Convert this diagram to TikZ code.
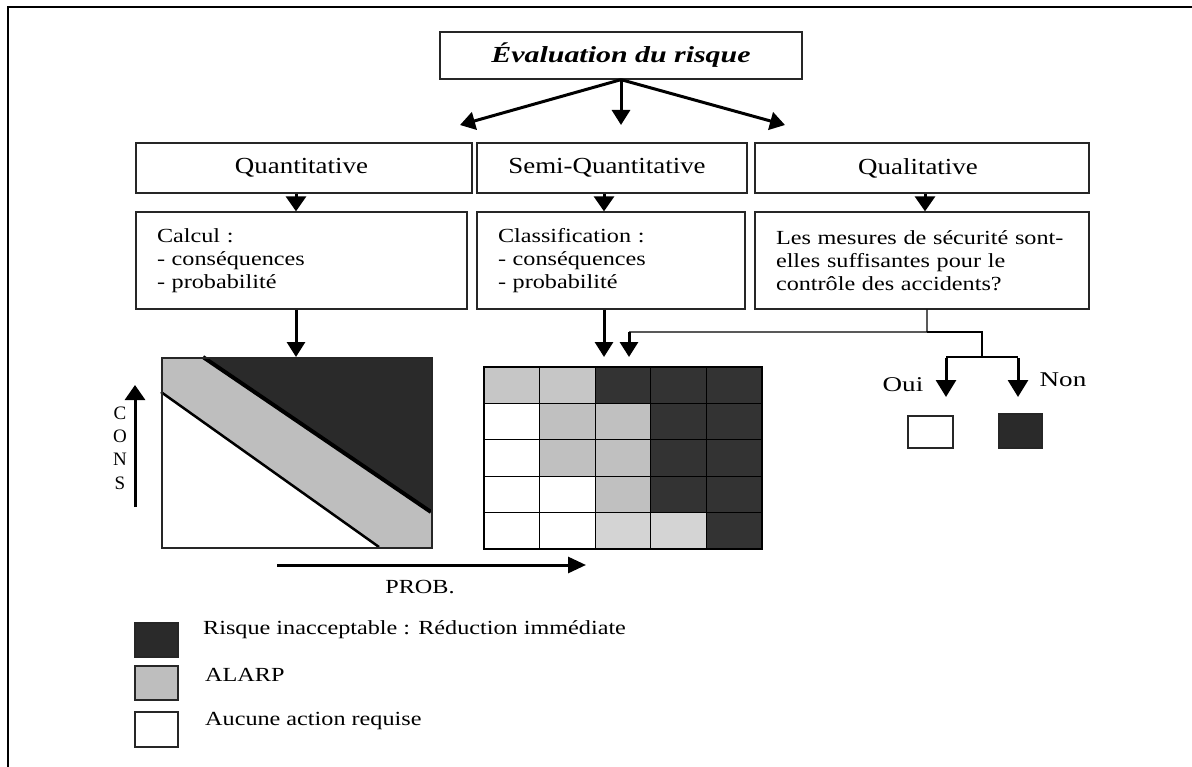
\documentclass[tikz,border=0pt]{standalone}
\usepackage{fontspec}
\setmainfont{Liberation Serif}
\newfontfamily\bodyf[FakeStretch=1.21]{Liberation Serif}
\newfontfamily\headf[FakeStretch=1.17]{Liberation Serif}
\newfontfamily\titlef[FakeStretch=1.3]{Liberation Serif}
\newfontfamily\ouif[FakeStretch=1.29]{Liberation Serif}
\usetikzlibrary{arrows.meta}
\definecolor{dk}{HTML}{2A2A2A}
\definecolor{gdk}{HTML}{333333}
\definecolor{gr}{HTML}{BEBEBE}
\definecolor{cA}{HTML}{C6C6C6}
\definecolor{cG}{HTML}{C0C0C0}
\definecolor{cL}{HTML}{D4D4D4}
\definecolor{cW}{HTML}{FFFFFF}
\tikzset{
  box/.style={draw=black!85, line width=1.3bp, fill=white, inner sep=0pt},
  headbox/.style={box, minimum height=50bp, font=\headf\fontsize{23bp}{27bp}\selectfont},
  bodybox/.style={box, minimum height=97bp, inner xsep=21bp, align=left,
     font=\bodyf\fontsize{20bp}{23.3bp}\selectfont},
  bigarrow/.style={line width=3bp, -{Triangle[width=18bp,length=15bp]}},
  smallarrow/.style={line width=3bp, -{Triangle[width=20bp,length=15bp]}},
  thinline/.style={line width=1.2bp},
  txt/.style={font=\bodyf\fontsize{20bp}{24bp}\selectfont, inner sep=0pt},
  legbox/.style={draw=black!85, line width=1.5bp, minimum width=43bp, minimum height=34bp, inner sep=0pt}
}
\begin{document}
\begin{tikzpicture}[x=1bp,y=-1bp]
\path[fill=white] (0,0) rectangle (1192,767);
\useasboundingbox (0,0) rectangle (1192,767);
% frame
\draw[line width=1.5bp] (1192,7) -- (8,7) -- (8,767);
% title
\node[box, minimum width=362bp, minimum height=47bp,
  font=\titlef\bfseries\itshape\fontsize{23bp}{27bp}\selectfont] (title) at (621,55.5) {Évaluation du risque};
\coordinate (tL) at (460,125);
\coordinate (tM) at (621,125);
\coordinate (tR) at (785,125);
\draw[bigarrow] (title.south) -- (tL);
\draw[bigarrow] (title.south) -- (tM);
\draw[bigarrow] (title.south) -- (tR);
% header boxes
\node[headbox, minimum width=336bp] (quant) at (304,168) {\hspace*{-5bp}Quantitative};
\node[headbox, minimum width=270bp] (semi) at (612,168) {\hspace*{-10bp}Semi-Quantitative};
\node[headbox, minimum width=334bp] (qual) at (922,168) {\hspace*{-8bp}Qualitative};
% body boxes
\node[bodybox, text width=289bp] (calc) at (301.5,260.5) {Calcul :\\- conséquences\\- probabilité};
\node[bodybox, text width=226bp] (classif) at (611,260.5) {Classification :\\- conséquences\\- probabilité};
\node[bodybox, text width=292bp] (mesures) at (922,260.5) {Les mesures de sécurité sont-\\elles suffisantes pour le\\contrôle des accidents?};
\draw[smallarrow] ([xshift=-8bp]quant.south) -- ([xshift=-8bp]quant.south |- calc.north);
\draw[smallarrow] ([xshift=-8bp]semi.south) -- ([xshift=-8bp]semi.south |- classif.north);
\draw[smallarrow] ([xshift=3bp]qual.south) -- ([xshift=3bp]qual.south |- mesures.north);
% quantitative graph
\coordinate (gNW) at (161,357);
\coordinate (gSE) at (431,547);
\coordinate (gA) at (203,357);
\coordinate (gB) at (431,512);
\coordinate (gC) at (161,392);
\coordinate (gD) at (379,547);
\fill[gr] (gNW) -- (gA) -- (gB) -- (gSE) -- (gD) -- (gC) -- cycle;
\fill[dk] (gA) -- (gNW -| gSE) -- (gB) -- cycle;
\draw[line width=4bp] (gA) -- (gB);
\draw[line width=2.5bp] (gC) -- (gD);
\node[draw=black!85, line width=1.5bp, minimum width=270bp, minimum height=190bp, inner sep=0pt, anchor=north west] (graph) at (gNW) {};
\draw[bigarrow] ([xshift=-5.5bp]calc.south) -- ([xshift=-5.5bp]calc.south |- graph.north);
% CONS axis
\coordinate (consB) at (135,507);
\coordinate (consT) at (135,385);
\draw[line width=3bp, -{Triangle[width=20bp,length=15bp]}] (consB) -- (consT);
\node[font=\fontsize{19bp}{23.3bp}\selectfont, align=center, inner sep=0pt] (cons) at (120,448) {C\\O\\N\\S};
% PROB axis
\coordinate (probL) at (277,565);
\coordinate (probR) at (586,565);
\draw[line width=3bp, -{Triangle[width=16bp,length=18bp]}] (probL) -- (probR);
\node[txt] (prob) at (420,587) {PROB.};
% grid
\foreach \r/\cols in {0/{cA,cA,gdk,gdk,gdk},1/{cW,cG,cG,gdk,gdk},2/{cW,cG,cG,gdk,gdk},3/{cW,cW,cG,gdk,gdk},4/{cW,cW,cL,cL,gdk}}{
  \foreach \c [count=\i from 0] in \cols {
    \filldraw[fill=\c, draw=black, line width=1.2bp] ({484+55.6*\i},{367+36.4*\r}) rectangle +(55.6,36.4);
  }
}
\node[draw=black, line width=1.4bp, minimum width=278bp, minimum height=182bp, inner sep=0pt, anchor=north west] (grid) at (484,367) {};
\draw[bigarrow] ([xshift=-7bp]classif.south) -- ([xshift=-7bp]classif.south |- graph.north);
% qualitative connectors
\coordinate (q1) at ([xshift=5bp]mesures.south);
\coordinate (q2) at (927,332);
\coordinate (q3) at (629,332);
\coordinate (q4) at (629,357);
\coordinate (q5) at (982,332);
\coordinate (q6) at (982,357);
\coordinate (q7) at (946,357);
\coordinate (q8) at (1018,357);
\coordinate (q9) at (946,397);
\coordinate (q10) at (1018,397);
\draw[thinline] (q1) -- (q2) -- (q3);
\draw[bigarrow] (q3) -- (q4);
\draw[thinline] (q2) -- (q5) -- (q6);
\draw[line width=2.5bp] (q7) -- (q8);
\draw[line width=3bp, -{Triangle[width=20bp,length=17bp]}] ([yshift=-1bp]q7) -- (q9);
\draw[line width=3bp, -{Triangle[width=20bp,length=17bp]}] ([yshift=-1bp]q8) -- (q10);
\node[inner sep=0pt, font=\ouif\fontsize{21bp}{25bp}\selectfont] (oui) at (903,385) {Oui};
\node[inner sep=0pt, font=\ouif\fontsize{21bp}{25bp}\selectfont] (non) at (1063,380) {Non};
\node[draw=black!85, line width=1.5bp, fill=white, minimum width=45bp, minimum height=32bp, inner sep=0pt] (ouibox) at (930.5,432) {};
\node[draw=black!85, line width=1.5bp, fill=dk, minimum width=43bp, minimum height=34bp, inner sep=0pt] (nonbox) at (1020.5,431) {};
% legend
\node[legbox, fill=dk] (l1) at (156.5,640) {};
\node[legbox, fill=gr] (l2) at (156.5,683) {};
\node[legbox, fill=white, minimum height=35bp] (l3) at (156.5,729.5) {};
\node[txt, anchor=west] (t1) at (203,630) {Risque inacceptable : Réduction immédiate};
\node[txt, anchor=west] (t2) at (205,675) {ALARP};
\node[txt, anchor=west] (t3) at (205,721) {Aucune action requise};
\end{tikzpicture}
\end{document}
